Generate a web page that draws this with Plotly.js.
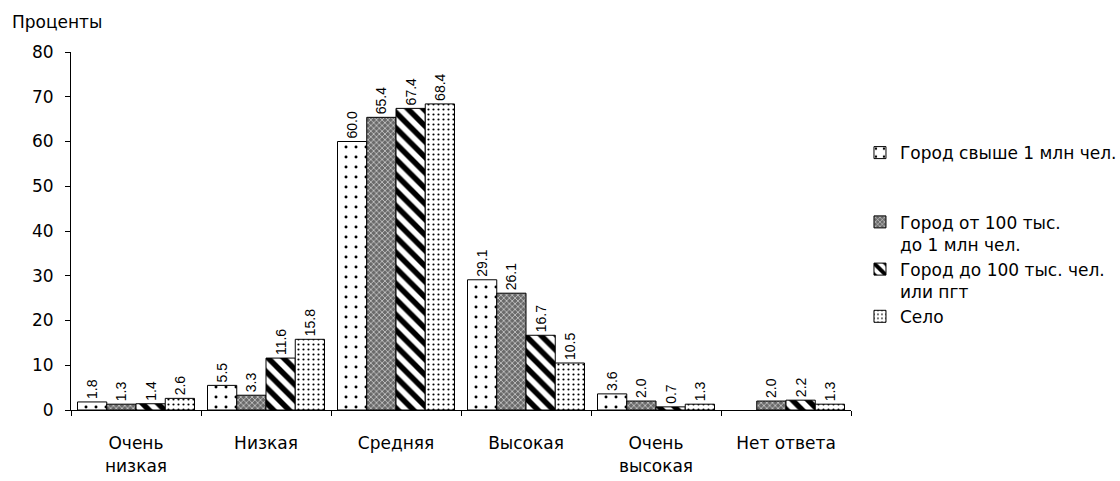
<!DOCTYPE html>
<html>
<head>
<meta charset="utf-8">
<script src="https://cdn.plot.ly/plotly-3.0.1.min.js"></script>
<style>html,body{margin:0;padding:0;background:#fff;}</style>
</head>
<body>
<div id="chart" style="width:1120px;height:481px;"></div>
<script>
const categories = ["Очень низкая", "Низкая", "Средняя", "Высокая", "Очень высокая", "Нет ответа"];
const categoryLabels = ["Очень<br>низкая", "Низкая", "Средняя", "Высокая", "Очень<br>высокая", "Нет ответа"];
const seriesNames = ["Город свыше 1 млн чел.<br> <br> ", "Город от 100 тыс.<br>до 1 млн чел.", "Город до 100 тыс. чел.<br>или пгт", "Село"];
const cityOver1M = [1.8, 5.5, 60.0, 29.1, 3.6, null];
const city100kTo1M = [1.3, 3.3, 65.4, 26.1, 2.0, 2.0];
const cityUnder100k = [1.4, 11.6, 67.4, 16.7, 0.7, 2.2];
const village = [2.6, 15.8, 68.4, 10.5, 1.3, 1.3];
const yTicks = [0, 10, 20, 30, 40, 50, 60, 70, 80];

const values = [cityOver1M, city100kTo1M, cityUnder100k, village];
const patterns = [
  {shape: ".", fgcolor: "#000", bgcolor: "#fff", size: 10, solidity: 0.07},
  {shape: "x", fgcolor: "#fff", bgcolor: "#6a6a6a", size: 4, solidity: 0.25},
  {shape: "\\", fgcolor: "#000", bgcolor: "#fff", size: 11, solidity: 0.5},
  {shape: ".", fgcolor: "#000", bgcolor: "#fff", size: 5, solidity: 0.15}
];

const traces = values.map((v, i) => ({
  type: "bar",
  name: seriesNames[i],
  x: categories,
  y: v,
  marker: {color: patterns[i].bgcolor, line: {color: "#000", width: 1}, pattern: patterns[i]},
  text: v.map(d => d == null ? "" : d.toFixed(1)),
  textposition: "outside",
  textangle: -90,
  constraintext: "none",
  cliponaxis: false,
  textfont: {family: "Liberation Sans, Arial, sans-serif", size: 14, color: "#000"},
  hoverinfo: "none"
}));

const layout = {
  width: 1120, height: 481,
  margin: {l: 71, r: 269, t: 52, b: 71, autoexpand: false},
  paper_bgcolor: "#fff", plot_bgcolor: "#fff",
  barmode: "group",
  bargap: 0.1, bargroupgap: 0,
  font: {family: "DejaVu Sans, sans-serif", size: 16, color: "#000"},
  showlegend: true,
  legend: {
    x: 1.0115, y: 0.768, xanchor: "left", yanchor: "top",
    valign: "top",
    font: {family: "DejaVu Sans, sans-serif", size: 17, color: "#000"},
    itemwidth: 30, bgcolor: "rgba(0,0,0,0)"
  },
  xaxis: {
    type: "category",
    tickvals: categories, ticktext: categoryLabels,
    tickson: "boundaries",
    ticks: "outside", ticklen: 5, tickcolor: "#000",
    showline: true, linecolor: "#000", linewidth: 1,
    showgrid: false, zeroline: false,
    ticklabelstandoff: 18,
    tickfont: {family: "DejaVu Sans, sans-serif", size: 17}
  },
  yaxis: {
    range: [0, 80], tickvals: yTicks,
    ticks: "outside", ticklen: 5, tickcolor: "#000",
    showline: true, linecolor: "#000", linewidth: 1,
    showgrid: false, zeroline: false,
    ticklabelstandoff: 8,
    tickfont: {family: "DejaVu Sans, sans-serif", size: 17}
  },
  annotations: [{
    text: "Проценты", xref: "paper", yref: "paper",
    x: -0.078, y: 1.084, xanchor: "left", yanchor: "middle",
    showarrow: false, font: {family: "DejaVu Sans, sans-serif", size: 17, color: "#000"}
  }]
};

Plotly.newPlot("chart", traces, layout, {displayModeBar: false, staticPlot: true});
</script>
</body>
</html>
